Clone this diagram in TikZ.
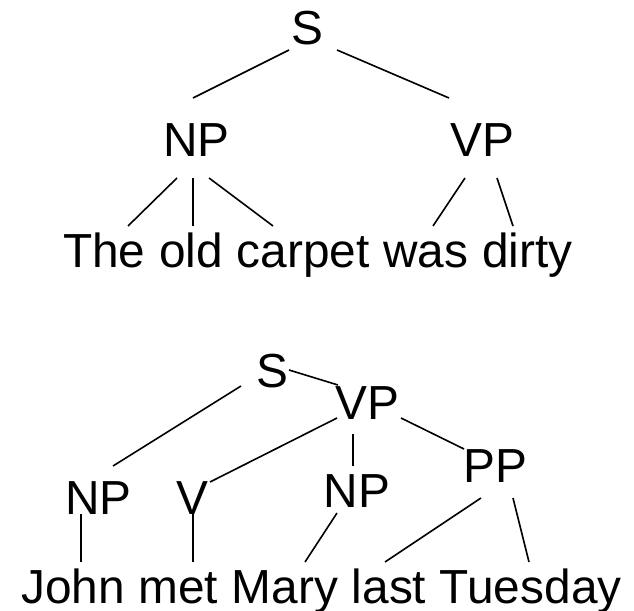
\documentclass[tikz,border=0pt]{standalone}
\usepackage{fontspec}
\setmainfont{Liberation Sans}
\begin{document}
\begin{tikzpicture}[x=1pt,y=-1pt,
  lbl/.style={inner sep=0pt,anchor=base,font=\fontsize{47.8}{57}\selectfont},
  word/.style={inner sep=0pt,anchor=base west,font=\fontsize{47.8}{57}\selectfont},
  nextword/.style={word,xshift=13.3pt},
  branch/.style={line width=1.6pt,line cap=butt}]
\useasboundingbox (0,0) rectangle (634,610);

% ---- first tree: The old carpet was dirty ----
\node[lbl] (s1)  at (307.5,45)  {S};
\node[lbl] (np1) at (196.5,156) {NP};
\node[lbl] (vp1) at (482.5,156) {VP};

\node[word] (the) at (63,267) {The};
\node[nextword] (old)    at (the.base east)    {old};
\node[nextword] (carpet) at (old.base east)    {carpet};
\node[nextword] (was)    at (carpet.base east) {was};
\node[nextword] (dirty)  at (was.base east)    {dirty};

% branch end points
\coordinate (s1-l)   at (289,50);  \coordinate (np1-t) at (193,98);
\coordinate (s1-r)   at (337,50);  \coordinate (vp1-t) at (449,98);
\coordinate (np1-a)  at (177,178); \coordinate (the-t)    at (128,226);
\coordinate (np1-b)  at (193,178); \coordinate (old-t)    at (193,226);
\coordinate (np1-c)  at (209,178); \coordinate (carpet-t) at (273,226);
\coordinate (vp1-a)  at (465,178); \coordinate (was-t)    at (433,226);
\coordinate (vp1-b)  at (497,178); \coordinate (dirty-t)  at (513,226);

\draw[branch] (s1-l) -- (np1-t);
\draw[branch] (s1-r) -- (vp1-t);
\draw[branch] (np1-a) -- (the-t);
\draw[branch] (np1-b) -- (old-t);
\draw[branch] (np1-c) -- (carpet-t);
\draw[branch] (vp1-a) -- (was-t);
\draw[branch] (vp1-b) -- (dirty-t);

% ---- second tree: John met Mary last Tuesday ----
\node[lbl] (s2)  at (272.5,387) {S};
\node[lbl] (vp2) at (367,419)   {VP};
\node[lbl] (np2) at (98.5,514)  {NP};
\node[lbl] (v2)  at (192.5,514) {V};
\node[lbl] (np3) at (357,507)   {NP};
\node[lbl] (pp2) at (495.5,482) {PP};

\node[word] (john) at (21,603) {John};
\node[nextword] (met)     at (john.base east) {met};
\node[nextword] (mary)    at (met.base east)  {Mary};
\node[nextword] (last)    at (mary.base east) {last};
\node[nextword] (tuesday) at (last.base east) {Tuesday};

\coordinate (s2-l)  at (241,386); \coordinate (np2-t) at (113,466);
\coordinate (s2-r)  at (289,370); \coordinate (vp2-l) at (338,385);
\coordinate (vp2-a) at (337,418); \coordinate (v2-t)  at (210,482);
\coordinate (vp2-b) at (353,434); \coordinate (np3-t) at (353,466);
\coordinate (vp2-c) at (401,418); \coordinate (pp2-t) at (464,449);
\coordinate (np2-b) at (81,514);  \coordinate (john-t) at (81,562);
\coordinate (v2-b)  at (193,514); \coordinate (met-t)  at (193,562);
\coordinate (np3-b) at (337,513); \coordinate (mary-t) at (305,562);
\coordinate (pp2-a) at (481,498); \coordinate (last-t) at (385,562);
\coordinate (pp2-b) at (513,498); \coordinate (tuesday-t) at (529,562);

\draw[branch] (s2-l) -- (np2-t);
\draw[branch] (s2-r) -- (vp2-l);
\draw[branch] (vp2-a) -- (v2-t);
\draw[branch] (vp2-b) -- (np3-t);
\draw[branch] (vp2-c) -- (pp2-t);
\draw[branch] (np2-b) -- (john-t);
\draw[branch] (v2-b) -- (met-t);
\draw[branch] (np3-b) -- (mary-t);
\draw[branch] (pp2-a) -- (last-t);
\draw[branch] (pp2-b) -- (tuesday-t);
\end{tikzpicture}
\end{document}
